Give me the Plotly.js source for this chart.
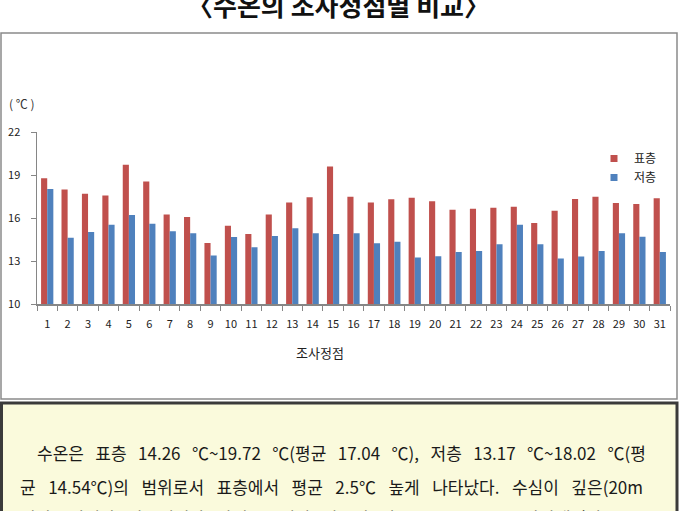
<!DOCTYPE html>
<html>
<head>
<meta charset="utf-8">
<script src="https://cdn.plot.ly/plotly-3.0.1.min.js"></script>
<style>
html,body{margin:0;padding:0;background:#fff;}
#chart{width:679px;height:511px;}
</style>
</head>
<body>
<div id="chart"></div>
<script>
// ---- data ----
const stations = ['1','2','3','4','5','6','7','8','9','10','11','12','13','14','15','16','17','18','19','20','21','22','23','24','25','26','27','28','29','30','31'];
const surfaceName = '표층';
const bottomName = '저층';
const surfaceTemp = [18.78, 17.98, 17.69, 17.57, 19.72, 18.55, 16.25, 16.07, 14.26, 15.46, 14.89, 16.25, 17.09, 17.44, 19.59, 17.48, 17.09, 17.30, 17.41, 17.16, 16.57, 16.64, 16.71, 16.78, 15.65, 16.50, 17.32, 17.48, 17.04, 16.97, 17.37];
const bottomTemp = [18.02, 14.63, 15.02, 15.53, 16.21, 15.60, 15.07, 14.93, 13.38, 14.68, 13.96, 14.75, 15.28, 14.93, 14.88, 14.93, 14.24, 14.35, 13.24, 13.33, 13.63, 13.70, 14.17, 15.53, 14.17, 13.17, 13.31, 13.70, 14.93, 14.70, 13.63];
const yTicks = [10, 13, 16, 19, 22];
const chartTitle = '〈수온의 조사정점별 비교〉';
const yUnit = '( ℃ )';
const xTitle = '조사정점';
const bodyWords = [
  ['수온은','표층','14.26','℃~19.72','℃(평균','17.04','℃),','저층','13.17','℃~18.02','℃(평'],
  ['균','14.54℃)의','범위로서','표층에서','평균','2.5℃','높게','나타났다.','수심이','깊은(20m'],
  ['이상)','진해만','서부해역과','가덕수로에서','비교적','낮은','수온','분포를','나타내었다.']
];

// ---- layout helpers (pixel -> paper) ----
const L = 37, R = 670, T = 132, B = 304;
const W = 679, H = 511;
const px = x => (x - L) / (R - L);
const py = y => (B - y) / (B - T);

const FONT = 'Noto Sans CJK KR, Noto Sans, sans-serif';
const RED = '#C0504D', BLUE = '#4F81BD';
const gap = n => '\u00a0'.repeat(n);

const traces = [
  {type:'bar', x:stations, y:surfaceTemp, name:surfaceName, marker:{color:RED}, showlegend:false, legendgroup:'s'},
  {type:'bar', x:stations, y:bottomTemp, name:bottomName, marker:{color:BLUE}, showlegend:false, legendgroup:'b'},
  {type:'scatter', mode:'markers', x:[null], y:[null], name:surfaceName, legendgroup:'s', marker:{symbol:'square', size:7, color:RED}},
  {type:'scatter', mode:'markers', x:[null], y:[null], name:bottomName, legendgroup:'b', marker:{symbol:'square', size:7, color:BLUE}}
];

const annotations = [
  {text:'<b>'+chartTitle+'</b>', x:px(338), y:py(4), xref:'paper', yref:'paper', showarrow:false, xanchor:'center', yanchor:'middle', font:{family:FONT, size:26, color:'#111'}},
  {text:yUnit, x:px(22), y:py(104), xref:'paper', yref:'paper', showarrow:false, xanchor:'center', yanchor:'middle', font:{family:FONT, size:12, color:'#333'}},
  {text:xTitle, x:px(320), y:py(352), xref:'paper', yref:'paper', showarrow:false, xanchor:'center', yanchor:'middle', font:{family:FONT, size:13, color:'#222'}},
  {text:bodyWords[0].join(gap(3)), x:px(35), y:py(452), xref:'paper', yref:'paper', showarrow:false, xanchor:'left', yanchor:'middle', font:{family:FONT, size:17, color:'#1a1a1a'}},
  {text:bodyWords[1].join(gap(3)+'\u200a'), x:px(18), y:py(486), xref:'paper', yref:'paper', showarrow:false, xanchor:'left', yanchor:'middle', font:{family:FONT, size:17, color:'#1a1a1a'}},
  {text:bodyWords[2].join(gap(3)), x:px(18), y:py(517), xref:'paper', yref:'paper', showarrow:false, xanchor:'left', yanchor:'middle', font:{family:FONT, size:17, color:'#1a1a1a'}}
];

const shapes = [
  {type:'rect', xref:'paper', yref:'paper', x0:px(1), x1:px(677), y0:py(33), y1:py(399), line:{color:'#8a8a8a', width:1.5}, fillcolor:'rgba(0,0,0,0)', layer:'below'},
  {type:'rect', xref:'paper', yref:'paper', x0:px(1.5), x1:px(677), y0:py(403), y1:py(540), line:{color:'#3a3a3a', width:3}, fillcolor:'#fafadc', layer:'below'}
];

const layout = {
  width:W, height:H,
  margin:{l:L, r:W-R, t:T, b:H-B, pad:0},
  paper_bgcolor:'#ffffff', plot_bgcolor:'rgba(0,0,0,0)',
  barmode:'group', bargap:0.4, bargroupgap:0,
  font:{family:FONT, size:11, color:'#222'},
  xaxis:{type:'category', showline:true, linecolor:'#868686', linewidth:1.5, ticks:'outside', tickson:'boundaries', ticklen:5, tickcolor:'#868686', showgrid:false, zeroline:false, tickangle:0, ticklabelstandoff:9, tickfont:{family:FONT, size:11, color:'#222'}, fixedrange:true},
  yaxis:{range:[10,22], tickvals:yTicks, showline:true, linecolor:'#868686', linewidth:1.5, ticks:'outside', ticklen:5, tickcolor:'#868686', showgrid:false, zeroline:false, ticklabelstandoff:8, tickfont:{family:FONT, size:11, color:'#222'}, fixedrange:true},
  legend:{x:px(594), y:py(144), xanchor:'left', yanchor:'top', bgcolor:'rgba(0,0,0,0)', font:{family:FONT, size:12, color:'#222'}, tracegroupgap:0},
  showlegend:true,
  annotations:annotations,
  shapes:shapes
};

Plotly.newPlot('chart', traces, layout, {displayModeBar:false, staticPlot:true});
</script>
</body>
</html>
